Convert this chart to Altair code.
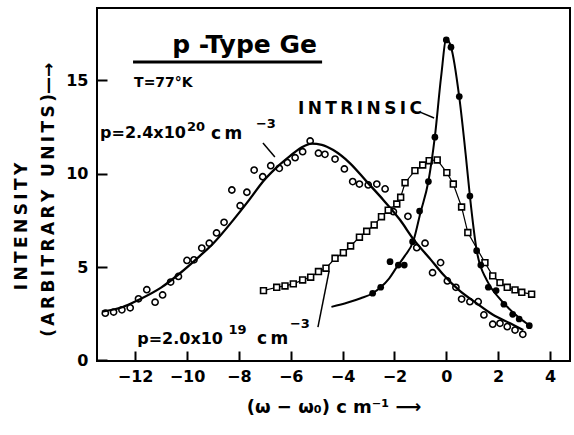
import altair as alt
import pandas as pd

FONT = "DejaVu Sans"

# ---- p = 2.4e20 cm^-3 (open circles) ----
hi_x = [-13.15, -12.83, -12.51, -12.19, -11.87, -11.55, -11.23, -10.94, -10.63, -10.33,
        -10.00, -9.73, -9.43, -9.14, -8.86, -8.57, -8.27, -7.95, -7.69, -7.41, -7.08,
        -6.77, -6.44, -6.13, -5.83, -5.54, -5.25, -4.93, -4.68, -4.29, -3.93, -3.61,
        -3.35, -3.01, -2.68, -2.36, -2.04, -1.48, -1.14, -0.82, -0.53, -0.22, 0.04,
        0.37, 0.59, 0.91, 1.23, 1.45, 1.79, 2.07, 2.35, 2.65, 2.95]
hi_y = [2.53, 2.59, 2.71, 2.82, 3.30, 3.79, 3.12, 3.51, 4.20, 4.50,
        5.36, 5.39, 6.02, 6.28, 6.83, 7.40, 9.13, 8.29, 9.01, 10.20, 9.84,
        10.43, 10.29, 10.60, 10.86, 11.18, 11.76, 11.10, 11.04, 10.79, 10.26, 9.58,
        9.45, 9.40, 9.45, 9.19, 7.97, 7.72, 6.04, 6.28, 4.70, 5.24, 4.26,
        3.92, 3.29, 3.15, 3.15, 2.44, 1.94, 1.99, 1.81, 1.63, 1.40]
hi_fit_x = [-13.28, -12.5, -11.87, -11.0, -10.27, -9.5, -8.98, -8.21, -7.6, -7.06, -6.5,
            -6.03, -5.6, -5.2, -4.8, -4.36, -3.71, -3.07, -2.43, -1.78, -1.27, -0.6,
            -0.12, 0.5, 1.17, 1.8, 2.46, 2.97]
hi_fit_y = [2.62, 2.85, 3.24, 3.9, 4.67, 5.6, 6.28, 7.53, 8.6, 9.6, 10.4,
            10.95, 11.4, 11.62, 11.55, 11.27, 10.56, 9.58, 8.6, 7.52, 6.5, 5.4,
            4.6, 3.75, 3.06, 2.45, 1.99, 1.63]

# ---- p = 2.0e19 cm^-3 (open squares) ----
lo_x = [-7.05, -6.54, -6.22, -5.90, -5.54, -5.23, -4.93, -4.64, -4.29, -3.97, -3.69,
        -3.35, -3.07, -2.78, -2.50, -2.24, -1.91, -1.76, -1.59, -1.21, -0.91, -0.66,
        -0.35, 0.02, 0.27, 0.59, 0.83, 1.49, 1.79, 2.07, 2.35, 2.65, 2.91, 3.29]
lo_y = [3.74, 3.92, 3.99, 4.10, 4.31, 4.46, 4.76, 4.94, 5.47, 5.77, 6.13,
        6.60, 6.92, 7.26, 7.70, 8.05, 8.38, 8.74, 9.52, 10.17, 10.47, 10.70,
        10.74, 10.06, 9.45, 8.22, 6.85, 5.24, 4.53, 4.17, 3.92, 3.78, 3.65, 3.55]

# ---- intrinsic (filled circles) ----
in_x = [-2.84, -2.53, -2.17, -1.85, -1.62, -1.30, -1.03, -0.69, -0.44, 0.00, 0.18,
        0.50, 0.91, 1.17, 1.33, 1.62, 1.92, 2.22, 2.56, 2.81, 3.20]
in_y = [3.60, 3.92, 5.29, 5.11, 5.11, 6.36, 8.00, 9.58, 11.96, 17.17, 16.78,
        14.14, 8.81, 5.88, 5.11, 3.92, 3.74, 3.01, 2.47, 2.22, 1.86]
in_fit_x = [-4.43, -3.8, -3.3, -2.84, -2.53, -2.2, -1.91, -1.6, -1.27, -1.0, -0.69,
            -0.44, -0.2, 0.0, 0.18, 0.5, 0.75, 0.91, 1.17, 1.56, 2.0, 2.33, 2.8, 3.23]
in_fit_y = [2.87, 3.1, 3.33, 3.6, 3.92, 4.4, 5.0, 5.6, 6.4, 7.9, 9.6,
            12.0, 15.2, 17.2, 16.8, 14.1, 11.0, 8.8, 5.9, 4.3, 3.4, 2.9, 2.3, 1.85]

X_TICKS = [-12, -10, -8, -6, -4, -2, 0, 2, 4]
Y_TICKS = [0, 5, 10, 15]
X_DOMAIN = [-13.47, 4.77]
Y_DOMAIN = [-0.03, 18.88]

TS = "\u2009"
# ---- annotations (text, x, y, font size) ----
ann_text = ["p -Type Ge", "T=77°K", TS.join("INTRINSIC"),
            "p=2.4x10", "20", "c" + TS + "m", "−3",
            "p=2.0x10", "19", "c" + TS + "m", "−3"]
ann_x = [-10.57, -12.04, -5.72, -13.35, -10.00, -9.07, -7.34, -11.92, -8.40, -7.30, -6.03]
ann_y = [16.47, 14.65, 13.20, 11.92, 12.29, 11.86, 12.45, 0.88, 1.42, 0.88, 1.74]
ann_size = [25, 14, 17, 16, 13, 17, 13, 16, 13, 17, 13]

# pointer / underline segments
seg_x = [-1.01, -7.07, -4.95]
seg_y = [13.30, 11.65, 1.79]
seg_x2 = [-0.47, -6.61, -4.52]
seg_y2 = [12.99, 10.90, 4.79]
uline_x, uline_x2, uline_y = [-12.08], [-4.79], [15.99]

hi_df = pd.DataFrame({"x": hi_x, "y": hi_y})
hi_fit = pd.DataFrame({"x": hi_fit_x, "y": hi_fit_y})
lo_df = pd.DataFrame({"x": lo_x, "y": lo_y})
in_df = pd.DataFrame({"x": in_x, "y": in_y})
in_fit = pd.DataFrame({"x": in_fit_x, "y": in_fit_y})
ann_df = pd.DataFrame({"t": ann_text, "x": ann_x, "y": ann_y, "s": ann_size})
seg_df = pd.DataFrame({"x": seg_x, "y": seg_y, "x2": seg_x2, "y2": seg_y2})
ul_df = pd.DataFrame({"x": uline_x, "x2": uline_x2, "y": uline_y})

ZW = "\u200b"
ytitle = [TS.join("INTENSITY") + "\u00a0" * 14 + ZW,
          TS.join("(ARBITRARY UNITS)") + "—→" + "\u00a0" * 5 + ZW]

x_axis = alt.Axis(values=X_TICKS, offset=-10, domain=False, grid=False,
                  tickSize=10, tickWidth=2, tickColor="black",
                  labelFont=FONT, labelFontSize=16, labelFontWeight="bold",
                  labelColor="black", labelPadding=7, labelFlush=False,
                  title="(ω − ω₀) c m⁻¹  ⟶", titleFont=FONT, titleFontSize=18,
                  titleFontWeight="bold", titleColor="black", titlePadding=14)
y_axis = alt.Axis(values=Y_TICKS, offset=-10, domain=False, grid=False,
                  tickSize=10, tickWidth=2, tickColor="black",
                  labelFont=FONT, labelFontSize=16, labelFontWeight="bold",
                  labelColor="black", labelPadding=9, labelFlush=False,
                  title=ytitle, titleFont=FONT, titleFontSize=17,
                  titleFontWeight="bold", titleColor="black", titlePadding=8,
                  titleLineHeight=27)

X = alt.X("x:Q", scale=alt.Scale(domain=X_DOMAIN, nice=False, zero=False), axis=x_axis)
Y = alt.Y("y:Q", scale=alt.Scale(domain=Y_DOMAIN, nice=False, zero=False), axis=y_axis)

hi_pts = alt.Chart(hi_df).mark_point(shape="circle", filled=False, size=38,
                                     strokeWidth=1.6, color="black", opacity=1).encode(x=X, y=Y)
hi_line = alt.Chart(hi_fit).mark_line(color="black", strokeWidth=2.3,
                                      interpolate="monotone").encode(x=X, y=Y)
lo_line = alt.Chart(lo_df).mark_line(color="black", strokeWidth=1.2).encode(x=X, y=Y)
lo_pts = alt.Chart(lo_df).mark_point(shape="square", filled=True, size=34,
                                     color="white", stroke="black", strokeWidth=1.6,
                                     opacity=1).encode(x=X, y=Y)
in_line = alt.Chart(in_fit).mark_line(color="black", strokeWidth=2,
                                      interpolate="monotone").encode(x=X, y=Y)
in_pts = alt.Chart(in_df).mark_point(shape="circle", filled=True, size=45,
                                     color="black", opacity=1).encode(x=X, y=Y)
texts = alt.Chart(ann_df).mark_text(align="left", baseline="alphabetic", font=FONT,
                                    fontWeight="bold", color="black").encode(
    x=X, y=Y, text="t:N", size=alt.Size("s:Q", scale=None, legend=None))
segs = alt.Chart(seg_df).mark_rule(color="black", strokeWidth=1.5).encode(
    x=X, y=Y, x2="x2:Q", y2="y2:Q")
uline = alt.Chart(ul_df).mark_rule(color="black", strokeWidth=3).encode(
    x=X, x2="x2:Q", y=Y)

chart = alt.layer(hi_line, hi_pts, lo_line, lo_pts, in_line, in_pts, texts, segs, uline).properties(
    width=473, height=353,
    autosize=alt.AutoSizeParams(type="none"),
    padding={"left": 97, "top": 8, "right": 4, "bottom": 74},
    background="white",
).configure_view(stroke="black", strokeWidth=2)

chart.save("out.html", embed_options={"renderer": "svg", "actions": False})
